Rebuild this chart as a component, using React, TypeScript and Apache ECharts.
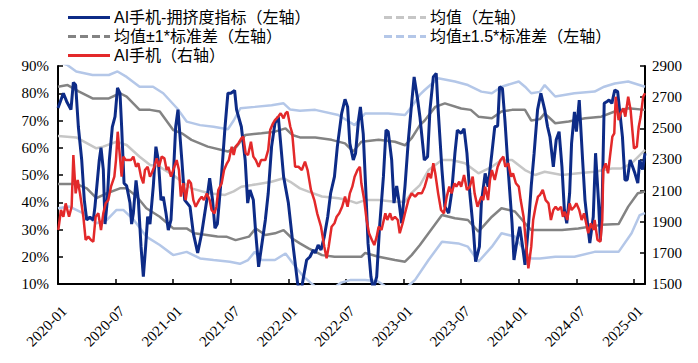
import React, { useEffect, useRef } from "react";
import * as echarts from "echarts";

// x = months since 2020-01
const tickLabels = ["2020-01","2020-07","2021-01","2021-07","2022-01","2022-07","2023-01","2023-07","2024-01","2024-07","2025-01"];

const crowding: number[][] = [
[0,74.6],[0.56,80],[0.9,77],[1.35,74],[1.6,84],[1.84,83],[2.12,67.7],[2.47,55.5],[2.74,40.8],[2.99,33.5],[3.33,34.5],[3.68,33.5],[3.85,38.4],[4.3,55.5],[4.48,60],[4.72,52],[4.9,32],[5.14,40.8],[5.35,55.5],[5.66,67.7],[5.94,71.4],[6.2,82],[6.46,80],[6.63,67.7],[6.88,47],[7.15,46],[7.5,39.7],[7.67,32],[7.85,36],[8.13,48],[8.37,40.8],[8.65,23.7],[8.89,12.7],[9.13,23.7],[9.34,34.7],[9.58,32],[9.93,46],[10.2,60.4],[10.45,55.5],[10.73,40.8],[10.97,42],[11.25,36],[11.49,29.8],[11.77,33.5],[12.01,49.4],[12.26,67.7],[12.5,74],
[12.9,55.5],[13.2,40.8],[13.75,38.4],[14.1,28.6],[14.55,21.4],[14.97,28.6],[15.5,40.8],[15.8,48.8],[16.1,40.8],[16.35,30.5],[16.6,32],[17.05,50.6],[17.4,67.7],[17.7,80],[18.0,80],[18.4,81],[18.6,74],[19.1,67.7],[19.5,55.5],[19.76,39.7],[20.0,44.5],[20.35,40.8],[20.6,28.6],[20.9,16.3],[21.2,23.7],[21.6,33.5],[21.9,43.3],[22.25,60.4],[22.6,69],[22.95,71.4],[23.5,49.4],[24.0,39.7],[24.5,23.7],[24.96,10.3],
[25.25,6],[25.6,13],[25.9,18.8],[26.25,20],[26.6,22.5],[26.8,21.4],[27.1,24.3],[27.4,22.5],[27.74,27.4],[28.1,34.7],[28.4,43.3],[28.8,49.4],[29.1,60.4],[29.55,72.6],[29.9,77.8],[30.17,75],[30.4,61.6],[30.76,55.5],[31.0,58],[31.3,70],[31.5,75],[31.8,65],[32.05,45.7],[32.3,24.9],[32.6,12.7],[32.85,8],[33.2,12.7],[33.5,31],[33.9,49.4],[34.17,66.5],[34.4,65.9],[34.76,55.5],[35.0,39.7],[35.28,46],[35.5,40.8],[35.8,32.3],[36.15,46],[36.5,62.9],[36.84,76.3],[37.1,86],[37.46,77.8],
[37.7,71.4],[38.16,55.5],[38.5,56.7],[38.75,74],[39.1,86],[39.4,87.3],[39.6,74],[40.0,51.8],[40.3,38.4],[40.7,36],[41.0,43.3],[41.35,58],[41.6,66.5],[42.0,65.3],[42.3,67],[42.6,58],[42.9,43.3],[43.3,28.6],[43.5,18.2],[43.9,23.7],[44.1,39.7],[44.5,50.6],[44.8,45.7],[45.2,58],[45.5,67.7],[45.8,68],[46.0,82.4],[46.3,81.7],[46.56,70],[46.9,51.8],[47.3,32.3],[47.5,18.8],[47.8,25.5],[48.1,31],[48.4,23.7],[48.65,17],[49.0,31],[49.3,46],[49.6,58],[49.96,74],
[50.3,80],[50.7,74],[51.0,67.7],[51.25,64],[51.6,53],[51.9,62.9],[52.2,65.9],[52.5,53],[52.75,37.2],[53.0,32.3],[53.3,43.3],[53.5,61.6],[53.8,73.2],[54.0,65.9],[54.3,77.5],[54.65,55.5],[54.9,40.8],[55.2,31],[55.4,25],[55.76,34.7],[56.0,58],[56.3,40.8],[56.5,26],[56.7,42],[56.9,76.3],[57.2,77],[57.4,77.5],[57.7,76.3],[58.0,81.2],[58.3,80.6],[58.5,74],[58.8,64],[59.06,48.2],[59.3,48.2],[59.6,55.5],[59.86,53],[60.1,50.6],[60.4,47],[60.6,55.5],[60.9,52],[61.15,58]
];

const aiPhone: number[][] = [
[0.03,1847],[0.31,1975],[0.56,1932],[0.8,2018],[1.15,1932],[1.42,1996],[1.6,2328],[1.84,2082],[2.05,2168],[2.29,2082],[2.64,1932],[2.88,1783],[3.16,1804],[3.44,1783],[3.68,1772],[3.92,1932],[4.2,1954],[4.48,1847],[4.72,1954],[4.97,2018],[5.24,2039],[5.52,2125],[5.87,2189],[6.04,2296],[6.22,2478],[6.39,2361],[6.63,2189],[6.81,2318],[7.05,2296],[7.33,2296],[7.6,2296],[7.85,2318],[8.13,2253],[8.37,2275],[8.65,2189],[8.89,2147],[9.06,2232],[9.34,2253],[9.58,2189],[9.76,2211],[10.03,2253],[10.28,2307],[10.52,2253],[10.8,2318],[11.08,2307],[11.32,2232],[11.49,2253],[11.77,2189],[12.12,2253],[12.36,2296],[12.6,2232],
[12.8,2061],[13.06,2147],[13.3,2039],[13.6,2168],[13.85,2147],[14.1,2039],[14.34,1996],[14.7,2039],[14.97,2061],[15.2,2039],[15.5,2082],[15.8,2039],[16.0,1975],[16.3,1954],[16.5,1996],[16.7,2104],[17.05,2147],[17.3,2232],[17.6,2275],[17.8,2296],[18.1,2382],[18.3,2328],[18.5,2382],[18.8,2404],[19.1,2436],[19.3,2446],[19.55,2339],[19.8,2328],[20.1,2414],[20.35,2318],[20.6,2296],[20.9,2253],[21.15,2296],[21.4,2296],[21.6,2296],[21.9,2361],[22.1,2489],[22.4,2532],[22.6,2553],[22.95,2575],[23.2,2596],[23.5,2564],[23.7,2596],[23.9,2607],[24.2,2510],[24.4,2468],[24.7,2253],
[25.05,2253],[25.4,2232],[25.73,2286],[26.0,2232],[26.35,2104],[26.7,2039],[27.0,1954],[27.4,1868],[27.74,1740],[27.98,1665],[28.2,1740],[28.5,1868],[28.8,1890],[29.03,1932],[29.3,1954],[29.6,1996],[29.9,2061],[30.17,1996],[30.4,2082],[30.66,2125],[30.9,2189],[31.2,2232],[31.45,2253],[31.6,2147],[31.9,2039],[32.15,1911],[32.4,1826],[32.7,1783],[32.95,1750],[33.2,1804],[33.4,1868],[33.7,1847],[34.1,1954],[34.3,1911],[34.6,1954],[34.8,1911],[35.1,1932],[35.4,1911],[35.6,1826],[35.9,1890],[36.15,1954],[36.5,2039],[36.84,2082],[37.2,2061],[37.5,2082],
[37.9,2082],[38.2,2125],[38.6,2211],[38.85,2179],[39.1,2275],[39.3,2211],[39.6,2082],[39.9,1975],[40.2,1954],[40.5,2061],[40.76,2125],[41.0,2082],[41.3,2147],[41.5,2125],[41.8,2157],[42.0,2125],[42.3,2200],[42.6,2104],[42.9,2125],[43.2,2189],[43.4,2082],[43.7,1996],[44.1,2061],[44.3,2039],[44.5,2125],[44.8,2039],[45.0,2168],[45.2,2232],[45.5,2168],[45.8,2253],[46.1,2296],[46.4,2318],[46.6,2253],[46.9,2275],[47.2,2189],[47.4,2211],[47.7,2147],[48.0,2125],[48.2,2039],[48.5,1932],[48.75,1761],[49.0,1601],[49.3,1740],[49.5,1911],[49.75,1996],[50.0,2061],
[50.2,2071],[50.5,2104],[50.8,2039],[51.1,2018],[51.35,1911],[51.6,1975],[51.84,1996],[52.1,1975],[52.4,1996],[52.6,1932],[52.8,1964],[53.05,1911],[53.3,2018],[53.5,1975],[53.8,1996],[54.0,2018],[54.3,1975],[54.55,1911],[54.8,1954],[55.1,1868],[55.24,1826],[55.5,1890],[55.8,1847],[55.9,1911],[56.2,1783],[56.5,1772],[56.7,1911],[56.8,2232],[57.05,2275],[57.3,2211],[57.5,2318],[57.75,2446],[57.95,2468],[58.1,2703],[58.4,2553],[58.6,2596],[58.9,2628],[59.1,2575],[59.4,2703],[59.65,2618],[59.8,2510],[60.0,2371],[60.3,2382],[60.5,2510],[60.7,2575],[60.96,2703],[61.15,2725]
];

const meanLine: number[][] = [[0,64.3],[1.9,63.8],[4.0,59.8],[4.7,60.4],[6.1,62.2],[7.15,61],[8.5,56.7],[9.6,53.7],[10.6,53],[11.7,50.6],[12.2,49.4],[13.9,45.1],[15.7,43.3],[17.4,42.7],[18.3,44],[19.1,45.7],[20.2,46.3],[21.2,46.9],[22.25,47.5],[23.5,48.8],[24.2,47.5],[25.2,45.1],[26.1,43.9],[27.5,42.1],[29.2,41.5],[30.2,40.8],[31.1,39.7],[32.0,40.8],[33.4,40.8],[35.1,40.2],[36.15,40.2],[36.8,43.3],[37.7,46.3],[38.6,51.8],[40.0,55.5],[41.0,55.5],[42.4,54.3],[43.8,50.6],[45.2,53],[46.2,55.5],[47.3,55.5],[48.65,51.8],[49.7,50],[50.7,51.2],[52.5,50],[54.2,50.6],[55.9,51.2],[57.7,52.4],[58.7,52.4],[59.75,54.3],[61.15,59.2]];

const upper1: number[][] = [[0,82.4],[1.0,83],[2.2,80.6],[3.6,78.1],[5.3,78.1],[6.46,80],[7.15,78.8],[8.5,73.9],[9.6,73.9],[10.6,73.3],[12.0,66.5],[12.9,65.3],[13.9,62.9],[15.6,60.4],[17.7,58.6],[18.6,60.4],[19.5,64.7],[21.2,65.3],[22.6,65.9],[23.7,67.1],[24.4,64.7],[25.2,63.8],[26.8,63.8],[28.5,62.9],[29.9,61.6],[30.76,58.6],[31.6,62.2],[33.4,62.9],[35.1,62.2],[36.15,60.9],[36.84,63.5],[37.7,68.3],[38.2,70],[39.3,75],[40.3,76.3],[42.0,74.4],[43.0,73.9],[43.8,71.4],[45.2,70.8],[46.2,73.3],[47.3,73.9],[48.65,73.9],[49.3,70],[50.2,70.5],[50.7,72.6],[51.8,69],[53.2,69.6],[54.9,70.8],[56.6,71.4],[58.0,73.3],[59.4,74.5],[61.15,73.9]];

const lower1: number[][] = [[0,46.7],[1.9,46.7],[3.0,45.1],[4.0,41.5],[5.1,43.3],[6.46,45.1],[7.15,45.1],[8.2,42.1],[9.2,37.8],[10.6,34.7],[12.0,30.4],[13.4,30.4],[14.2,28.6],[15.5,28],[16.6,27.4],[17.6,27.3],[18.5,26.1],[19.9,27.4],[20.6,30.4],[21.6,28],[22.6,28.6],[23.5,29.8],[24.4,26.7],[25.2,24.9],[26.1,23.1],[27.5,20.6],[28.8,20],[31.6,20],[32.0,21.4],[33.4,20],[35.1,18.8],[36.15,18.2],[36.84,20.6],[37.7,24.3],[38.6,28.6],[40.0,35.3],[41.35,34.1],[42.7,33.5],[43.8,29.2],[45.2,34.7],[46.2,37.8],[47.6,36.6],[48.65,32.3],[49.3,29.8],[50.2,29.8],[52.5,29.8],[54.2,30.4],[56.6,31.7],[58.4,32],[59.4,38.4],[60.4,43.3],[61.15,43.9]];

const upper15: number[][] = [[0,91.5],[1.0,90.3],[1.9,88],[3.6,86.7],[5.3,86.7],[6.2,88],[7.15,86],[8.5,82.4],[9.9,82.4],[10.96,80],[12.4,74.5],[13.4,69.6],[14.8,68.3],[16.2,67.7],[17.7,66.8],[18.3,70],[19.0,74.5],[20.5,75],[22.25,75.6],[23.5,76.3],[24.2,74],[25.2,73.6],[26.8,73.9],[29.2,72],[30.9,68.3],[32.0,72.6],[34.4,72.6],[36.15,72],[36.84,75],[37.2,76.9],[37.7,79.5],[38.2,81.2],[39.6,85.5],[41.35,84.3],[42.7,83],[44.1,80.6],[45.2,80],[46.2,82.4],[48.0,84.3],[48.65,82.4],[49.3,80],[50.2,80.5],[50.7,83],[51.8,78.8],[53.8,80],[55.9,80.6],[56.9,82.4],[58.0,83.6],[59.4,84.3],[61.15,82.4]];

const lower15: number[][] = [[0,37.8],[1.2,38.4],[2.6,36],[4.0,32.3],[5.1,33.5],[6.1,37.2],[6.8,37.2],[7.9,33.5],[9.2,27.4],[10.6,24.3],[12.0,20.6],[13.4,21.8],[14.8,19.4],[16.2,18.8],[17.9,18.2],[18.95,17.4],[19.8,18.8],[20.5,21.8],[21.2,18.8],[22.6,18.8],[23.7,21.2],[24.7,16.5],[25.5,13],[26.3,10.5],[27.0,8.5],[28.5,8],[29.5,10.5],[30.5,11.5],[32.0,11.5],[33.3,11],[34.2,9],[35.5,8.5],[36.4,9],[37.2,11.5],[38.6,18.8],[40.0,25.5],[41.7,24.9],[42.7,23.7],[43.8,18.2],[45.2,23.7],[46.2,28.6],[47.6,27.4],[48.65,21.8],[49.3,19.4],[50.2,19.4],[51.8,20],[53.8,20],[55.9,21.8],[58.4,21.8],[59.75,28.6],[60.6,35.3],[61.15,36]];

const N_BLUE = "AI手机-拥挤度指标（左轴）";
const N_MEAN = "均值（左轴）";
const N_1SD = "均值±1*标准差（左轴）";
const N_15SD = "均值±1.5*标准差（左轴）";
const N_RED = "AI手机（右轴）";

const C_BLUE = "#0d2b87";
const C_MEAN = "#c6c6c6";
const C_1SD = "#838383";
const C_15SD = "#b4c7e8";
const C_RED = "#e3292a";

const serif = "'Times New Roman', 'Liberation Serif', serif";
const sans = "'Liberation Sans', 'Noto Sans CJK SC', sans-serif";

// legend entries: name, colour, dashed, column, row
const legendItems: [string, string, boolean, number, number][] = [
  [N_BLUE, C_BLUE, false, 0, 0],
  [N_MEAN, C_MEAN, true, 1, 0],
  [N_1SD, C_1SD, true, 0, 1],
  [N_15SD, C_15SD, true, 1, 1],
  [N_RED, C_RED, false, 0, 2],
];

export default function App() {
  const ref = useRef<HTMLDivElement>(null);
  useEffect(() => {
    if (!ref.current) return;
    const chart = echarts.init(ref.current, undefined, { renderer: "svg" });
    const line = (name: string, data: number[][], color: string, width: number, yAxisIndex = 0) => ({
      name,
      type: "line",
      data,
      yAxisIndex,
      symbol: "none",
      smooth: false,
      clip: true,
      lineStyle: { color, width },
      itemStyle: { color },
    });
    const colX = [68, 384];
    const rowY = [17.5, 36.5, 55.5];
    const graphics: any[] = [];
    legendItems.forEach(([name, color, dashed, col, row]) => {
      const x0 = colX[col];
      const y = rowY[row];
      graphics.push({
        type: "line",
        shape: { x1: x0, y1: y, x2: x0 + 42, y2: y },
        style: { stroke: color, lineWidth: 3, lineDash: dashed ? [8, 4] : null },
        silent: true,
      });
      graphics.push({
        type: "text",
        x: x0 + 46,
        y,
        style: { text: name, fill: "#000", fontFamily: sans, fontSize: 16, lineHeight: 17, verticalAlign: "middle", align: "left" },
        silent: true,
      });
    });
    chart.setOption({
      animation: false,
      grid: { left: 58, right: 53, top: 66, bottom: 79, containLabel: false },
      graphic: graphics,
      xAxis: {
        type: "value",
        min: 0,
        max: 61.15,
        interval: 6,
        axisLine: { lineStyle: { color: "#000", width: 2 } },
        axisTick: { show: true, inside: true, length: 5, lineStyle: { color: "#000", width: 1.5 } },
        splitLine: { show: false },
        axisLabel: {
          rotate: 45,
          color: "#000",
          fontFamily: serif,
          fontSize: 15,
          margin: 31,
          padding: [0, -9, 0, 0],
          showMaxLabel: false,
          formatter: (v: number) => {
            const k = Math.round(v / 6);
            if (Math.abs(v - k * 6) > 0.01) return "";
            return tickLabels[k] ?? "";
          },
        },
      },
      yAxis: [
        {
          type: "value",
          min: 10,
          max: 90,
          interval: 10,
          axisLine: { show: true, lineStyle: { color: "#000", width: 2 } },
          axisTick: { show: true, inside: true, length: 5, lineStyle: { color: "#000", width: 1.5 } },
          splitLine: { show: false },
          axisLabel: { color: "#000", fontFamily: serif, fontSize: 15, margin: 9, formatter: (v: number) => `${v}%` },
        },
        {
          type: "value",
          min: 1500,
          max: 2900,
          interval: 200,
          position: "right",
          axisLine: { show: true, lineStyle: { color: "#000", width: 2 } },
          axisTick: { show: true, inside: true, length: 5, lineStyle: { color: "#000", width: 1.5 } },
          splitLine: { show: false },
          axisLabel: { color: "#000", fontFamily: serif, fontSize: 15, margin: 7, formatter: (v: number) => String(v) },
        },
      ],
      series: [
        line(N_15SD, upper15, C_15SD, 2.5),
        line(N_15SD, lower15, C_15SD, 2.5),
        line(N_1SD, upper1, C_1SD, 2.5),
        line(N_1SD, lower1, C_1SD, 2.5),
        line(N_MEAN, meanLine, C_MEAN, 2.5),
        line(N_BLUE, crowding, C_BLUE, 3),
        line(N_RED, aiPhone, C_RED, 2.5, 1),
      ],
    });
    return () => chart.dispose();
  }, []);
  return <div ref={ref} style={{ width: 698, height: 363, position: "absolute", left: 0, top: 0 }} />;
}
